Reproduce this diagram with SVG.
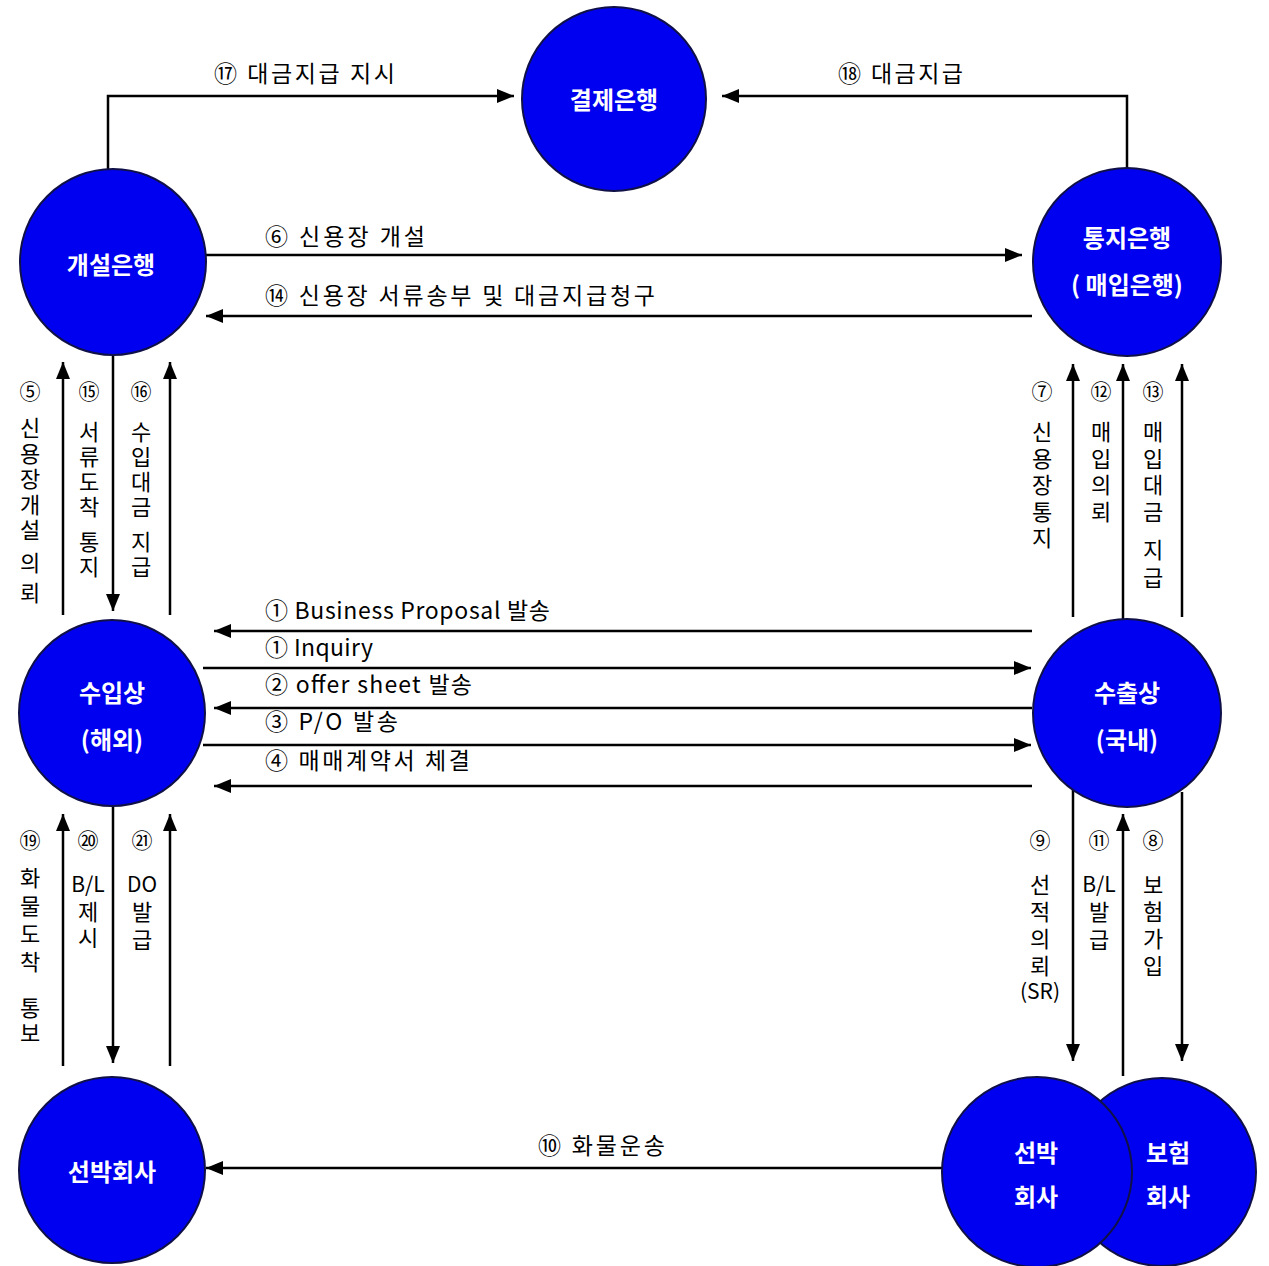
<svg xmlns="http://www.w3.org/2000/svg" width="1269" height="1266" viewBox="0 0 1269 1266">
  <style>
    .node { fill: #0000F0; stroke: #101048; stroke-width: 2; }
    .ntxt { fill: #ffffff; font-family: "Noto Sans CJK KR", "Liberation Sans", sans-serif; font-size: 24px; font-weight: bold; text-anchor: middle; }
    .wire { fill: none; stroke: #000000; stroke-width: 2.5; }
    .lbl { fill: #000000; font-family: "Noto Sans CJK KR", "Liberation Sans", sans-serif; font-size: 23px; }
    .num { fill: #000000; font-family: "Noto Sans CJK KR", "Liberation Sans", sans-serif; font-size: 21px; text-anchor: middle; }
    .vt { fill: #000000; font-family: "Noto Sans CJK KR", "Liberation Sans", sans-serif; font-size: 22px; writing-mode: vertical-rl; text-orientation: upright; }
  </style>
  <defs>
    <marker id="arrow" markerUnits="userSpaceOnUse" markerWidth="18" markerHeight="14" refX="17" refY="7" orient="auto">
      <path d="M0,0 L17,7 L0,14 z" fill="#000000"/>
    </marker>
  </defs>
  <rect width="1269" height="1266" fill="#ffffff"/>

  <!-- connectors -->
  <g id="connectors">
    <!-- payment instruction / payment to settlement bank -->
    <polyline class="wire" points="108,170 108,96 514,96" marker-end="url(#arrow)"/>
    <polyline class="wire" points="1127,170 1127,96 722,96" marker-end="url(#arrow)"/>
    <!-- issuing bank <-> advising bank -->
    <line class="wire" x1="205" y1="255" x2="1022" y2="255" marker-end="url(#arrow)"/>
    <line class="wire" x1="1032" y1="316" x2="206" y2="316" marker-end="url(#arrow)"/>
    <!-- issuing bank <-> importer -->
    <line class="wire" x1="63" y1="615" x2="63" y2="362" marker-end="url(#arrow)"/>
    <line class="wire" x1="113" y1="356" x2="113" y2="611" marker-end="url(#arrow)"/>
    <line class="wire" x1="170" y1="615" x2="170" y2="362" marker-end="url(#arrow)"/>
    <!-- exporter -> advising bank -->
    <line class="wire" x1="1073" y1="617" x2="1073" y2="364" marker-end="url(#arrow)"/>
    <line class="wire" x1="1123" y1="620" x2="1123" y2="364" marker-end="url(#arrow)"/>
    <line class="wire" x1="1182" y1="617" x2="1182" y2="364" marker-end="url(#arrow)"/>
    <!-- importer <-> exporter -->
    <line class="wire" x1="1032" y1="631" x2="214" y2="631" marker-end="url(#arrow)"/>
    <line class="wire" x1="203" y1="668" x2="1031" y2="668" marker-end="url(#arrow)"/>
    <line class="wire" x1="1032" y1="708" x2="214" y2="708" marker-end="url(#arrow)"/>
    <line class="wire" x1="203" y1="745" x2="1031" y2="745" marker-end="url(#arrow)"/>
    <line class="wire" x1="1032" y1="786" x2="214" y2="786" marker-end="url(#arrow)"/>
    <!-- importer <-> shipping company -->
    <line class="wire" x1="63" y1="1066" x2="63" y2="814" marker-end="url(#arrow)"/>
    <line class="wire" x1="113" y1="806" x2="113" y2="1063" marker-end="url(#arrow)"/>
    <line class="wire" x1="170" y1="1066" x2="170" y2="814" marker-end="url(#arrow)"/>
    <!-- exporter <-> shipping / insurance -->
    <line class="wire" x1="1073" y1="790" x2="1073" y2="1061" marker-end="url(#arrow)"/>
    <line class="wire" x1="1123" y1="1076" x2="1123" y2="814" marker-end="url(#arrow)"/>
    <line class="wire" x1="1182" y1="792" x2="1182" y2="1061" marker-end="url(#arrow)"/>
    <!-- cargo transport -->
    <line class="wire" x1="944" y1="1168" x2="206" y2="1168" marker-end="url(#arrow)"/>
  </g>

  <!-- horizontal labels -->
  <g id="labels">
    <text class="lbl" x="214" y="82" textLength="181" lengthAdjust="spacing">⑰ 대금지급 지시</text>
    <text class="lbl" x="838" y="82" textLength="125" lengthAdjust="spacing">⑱ 대금지급</text>
    <text class="lbl" x="265" y="245" textLength="160" lengthAdjust="spacing">⑥ 신용장 개설</text>
    <text class="lbl" x="265" y="304" textLength="390" lengthAdjust="spacing">⑭ 신용장 서류송부 및 대금지급청구</text>
    <text class="lbl" x="265" y="619" textLength="285" lengthAdjust="spacing">① Business Proposal 발송</text>
    <text class="lbl" x="265" y="656" textLength="108" lengthAdjust="spacing">① Inquiry</text>
    <text class="lbl" x="265" y="693" textLength="207" lengthAdjust="spacing">② offer sheet 발송</text>
    <text class="lbl" x="265" y="730" textLength="133" lengthAdjust="spacing">③ P/O 발송</text>
    <text class="lbl" x="265" y="769" textLength="205" lengthAdjust="spacing">④ 매매계약서 체결</text>
    <text class="lbl" x="538" y="1154" textLength="127" lengthAdjust="spacing">⑩ 화물운송</text>

    <!-- vertical labels, upper left -->
    <text class="num" x="30" y="399">⑤</text>
    <text class="vt" x="30" y="417" letter-spacing="3.5">신용장개설</text>
    <text class="vt" x="30" y="552" letter-spacing="8">의뢰</text>
    <text class="num" x="89" y="399">⑮</text>
    <text class="vt" x="89" y="421" letter-spacing="3">서류도착</text>
    <text class="vt" x="89" y="531" letter-spacing="3">통지</text>
    <text class="num" x="141" y="399">⑯</text>
    <text class="vt" x="141" y="421" letter-spacing="3">수입대금</text>
    <text class="vt" x="141" y="531" letter-spacing="3">지급</text>

    <!-- vertical labels, upper right -->
    <text class="num" x="1042" y="399">⑦</text>
    <text class="vt" x="1042" y="421" letter-spacing="4.5">신용장통지</text>
    <text class="num" x="1101" y="399">⑫</text>
    <text class="vt" x="1101" y="421" letter-spacing="4.5">매입의뢰</text>
    <text class="num" x="1153" y="399">⑬</text>
    <text class="vt" x="1153" y="421" letter-spacing="4.5">매입대금</text>
    <text class="vt" x="1153" y="539" letter-spacing="6">지급</text>

    <!-- vertical labels, lower left -->
    <text class="num" x="30" y="848">⑲</text>
    <text class="vt" x="30" y="867" letter-spacing="6">화물도착</text>
    <text class="vt" x="30" y="997" letter-spacing="3">통보</text>
    <text class="num" x="88" y="848">⑳</text>
    <text class="num" x="88" y="892">B/L</text>
    <text class="vt" x="88" y="901" letter-spacing="4">제시</text>
    <text class="num" x="142" y="848">㉑</text>
    <text class="num" x="142" y="892">DO</text>
    <text class="vt" x="142" y="901" letter-spacing="6">발급</text>

    <!-- vertical labels, lower right -->
    <text class="num" x="1040" y="848">⑨</text>
    <text class="vt" x="1040" y="874" letter-spacing="5">선적의뢰</text>
    <text class="num" x="1040" y="999" font-size="18">(SR)</text>
    <text class="num" x="1099" y="848">⑪</text>
    <text class="num" x="1099" y="892">B/L</text>
    <text class="vt" x="1099" y="901" letter-spacing="6">발급</text>
    <text class="num" x="1153" y="848">⑧</text>
    <text class="vt" x="1153" y="874" letter-spacing="5">보험가입</text>
  </g>

  <!-- nodes -->
  <g id="settlement-bank">
    <circle class="node" cx="614" cy="99" r="92"/>
    <text class="ntxt" x="614" y="109">결제은행</text>
  </g>
  <g id="issuing-bank">
    <circle class="node" cx="113" cy="262" r="93"/>
    <text class="ntxt" x="111" y="274">개설은행</text>
  </g>
  <g id="advising-bank">
    <circle class="node" cx="1127" cy="262" r="94"/>
    <text class="ntxt" x="1127" y="247">통지은행</text>
    <text class="ntxt" x="1127" y="294">( 매입은행)</text>
  </g>
  <g id="importer">
    <circle class="node" cx="112" cy="713" r="93"/>
    <text class="ntxt" x="112" y="702">수입상</text>
    <text class="ntxt" x="112" y="749">(해외)</text>
  </g>
  <g id="exporter">
    <circle class="node" cx="1127" cy="713" r="94"/>
    <text class="ntxt" x="1127" y="702">수출상</text>
    <text class="ntxt" x="1127" y="749">(국내)</text>
  </g>
  <g id="shipping-company-import">
    <circle class="node" cx="112" cy="1170" r="93"/>
    <text class="ntxt" x="112" y="1181">선박회사</text>
  </g>
  <g id="insurance-company">
    <circle class="node" cx="1162" cy="1172" r="94"/>
    <text class="ntxt" x="1168" y="1162">보험</text>
    <text class="ntxt" x="1168" y="1206">회사</text>
  </g>
  <g id="shipping-company-export">
    <circle class="node" cx="1037" cy="1172" r="95"/>
    <text class="ntxt" x="1036" y="1162">선박</text>
    <text class="ntxt" x="1036" y="1206">회사</text>
  </g>
</svg>
